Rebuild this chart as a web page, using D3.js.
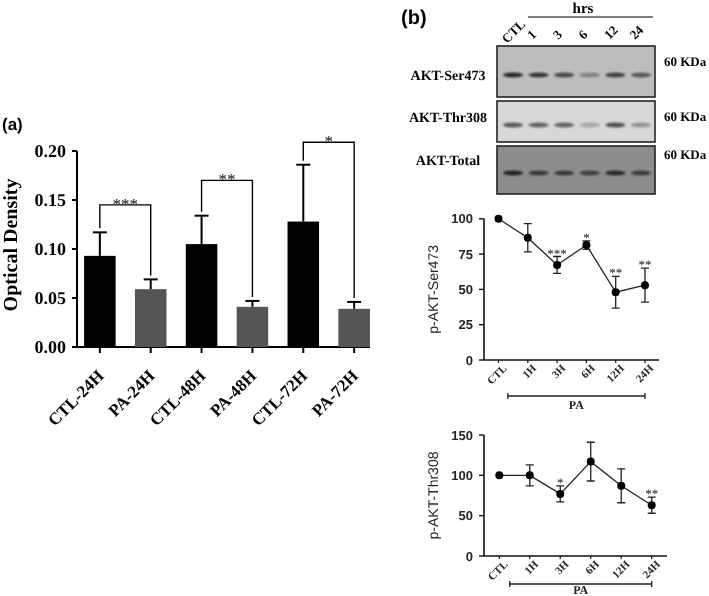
<!DOCTYPE html>
<html>
<head>
<meta charset="utf-8">
<script src="https://cdn.jsdelivr.net/npm/d3@7"></script>
<style>
  body { margin: 0; background: #fff; }
  svg { display: block; }
  text { opacity: 0.99; text-rendering: geometricPrecision; }
</style>
</head>
<body>
<script>
// panel (a) - optical density bars
const barCats = ["CTL-24H", "PA-24H", "CTL-48H", "PA-48H", "CTL-72H", "PA-72H"];
const barMeans = [0.093, 0.059, 0.105, 0.041, 0.128, 0.039];
const barErrs = [0.024, 0.010, 0.029, 0.006, 0.058, 0.007];
const barTicks = [0, 0.05, 0.10, 0.15, 0.20];
const barSigPairs = [["CTL-24H", "PA-24H", "***", 0.145], ["CTL-48H", "PA-48H", "**", 0.170], ["CTL-72H", "PA-72H", "*", 0.209]];

// panel (b) - western blot
const blotLanes = ["CTL", "1", "3", "6", "12", "24"];
const blotRows = ["AKT-Ser473", "AKT-Thr308", "AKT-Total"];
const ser473Bands = [0.9, 0.8, 0.7, 0.35, 0.75, 0.6];
const thr308Bands = [0.65, 0.6, 0.6, 0.25, 0.7, 0.35];
const totalBands = [0.9, 0.7, 0.7, 0.65, 0.85, 0.7];

// panel (b) - quantification
const timePoints = ["CTL", "1H", "3H", "6H", "12H", "24H"];
const ser473Means = [100, 86.6, 67.3, 81.4, 48, 53];
const ser473Errs = [0, 10, 6, 3, 11.2, 12];
const ser473Sig = ["", "", "***", "*", "**", "**"];
const ser473Ticks = [0, 25, 50, 75, 100];
const thr308Means = [100, 100, 77, 117, 87, 63];
const thr308Errs = [0, 13, 10, 24, 21, 10];
const thr308Sig = ["", "", "*", "", "", "**"];
const thr308Ticks = [0, 50, 100, 150];

const svg = d3.select("body").append("svg").attr("width", 709).attr("height", 596);
const serif = "'Liberation Serif', 'Times New Roman', serif";
const sans = "'Liberation Sans', Arial, sans-serif";

// ---------- (a) ----------
svg.append("text").attr("x", 2).attr("y", 130)
    .style("font", `bold 17px ${sans}`).text("(a)");

let xA = d3.scaleBand().domain(barCats).range([79, 375]).paddingInner(0.38).paddingOuter(0.1);
let yA = d3.scaleLinear().domain([0, 0.20]).range([347, 151]);

let gA = svg.append("g");
gA.append("line").attr("x1", 77).attr("x2", 77).attr("y1", 347).attr("y2", yA(0.20)).attr("stroke", "#000").attr("stroke-width", 2);
gA.append("line").attr("x1", 77).attr("x2", 370).attr("y1", 347).attr("y2", 347).attr("stroke", "#000").attr("stroke-width", 2);

gA.selectAll(".ytick").data(barTicks).join("line")
    .attr("x1", 72).attr("x2", 77).attr("y1", d => yA(d)).attr("y2", d => yA(d))
    .attr("stroke", "#000").attr("stroke-width", 2);
gA.selectAll(".ylab").data(barTicks).join("text")
    .attr("x", 66).attr("y", d => yA(d)).attr("dy", "0.35em")
    .attr("text-anchor", "end").style("font", `bold 18px ${serif}`)
    .text(d => d.toFixed(2));

gA.append("text").attr("transform", "translate(17,245) rotate(-90)")
    .attr("text-anchor", "middle").style("font", `bold 20px ${serif}`).text("Optical Density");

// error bars behind bars
gA.selectAll(".err").data(barCats).join("line")
    .attr("x1", d => xA(d) + xA.bandwidth() / 2).attr("x2", d => xA(d) + xA.bandwidth() / 2)
    .attr("y1", (d, i) => yA(barMeans[i])).attr("y2", (d, i) => yA(barMeans[i] + barErrs[i]))
    .attr("stroke", "#000").attr("stroke-width", 2);
gA.selectAll(".cap").data(barCats).join("line")
    .attr("x1", d => xA(d) + xA.bandwidth() / 2 - 7).attr("x2", d => xA(d) + xA.bandwidth() / 2 + 7)
    .attr("y1", (d, i) => yA(barMeans[i] + barErrs[i])).attr("y2", (d, i) => yA(barMeans[i] + barErrs[i]))
    .attr("stroke", "#000").attr("stroke-width", 2);

gA.selectAll("rect").data(barCats).join("rect")
    .attr("x", d => xA(d)).attr("width", xA.bandwidth())
    .attr("y", (d, i) => yA(barMeans[i])).attr("height", (d, i) => 347 - yA(barMeans[i]))
    .attr("fill", (d, i) => i % 2 ? "#555555" : "#000");

gA.selectAll(".xtick").data(barCats).join("line")
    .attr("x1", d => xA(d) + xA.bandwidth() / 2).attr("x2", d => xA(d) + xA.bandwidth() / 2)
    .attr("y1", 347).attr("y2", 353).attr("stroke", "#000").attr("stroke-width", 2);
gA.selectAll(".xlab").data(barCats).join("text")
    .attr("transform", d => `translate(${xA(d) + xA.bandwidth() / 2 + 5},377) rotate(-45)`)
    .attr("text-anchor", "end")
    .style("font", `bold 17px ${serif}`).text(d => d);

// significance brackets
barSigPairs.forEach(([a, b, lab, yv]) => {
    let x1 = xA(a) + xA.bandwidth() / 2, x2 = xA(b) + xA.bandwidth() / 2;
    let ia = barCats.indexOf(a), ib = barCats.indexOf(b);
    let ya = yA(barMeans[ia] + barErrs[ia]) - 4, yb = yA(barMeans[ib] + barErrs[ib]) - 4;
    gA.append("path")
        .attr("d", `M${x1},${ya} V${yA(yv)} H${x2} V${yb}`)
        .attr("fill", "none").attr("stroke", "#000").attr("stroke-width", 1.4);
    gA.append("text").attr("x", (x1 + x2) / 2).attr("y", yA(yv) + 5)
        .attr("text-anchor", "middle").style("font", `17px ${serif}`).attr("fill", "#222").text(lab);
});

// ---------- (b) blot ----------
svg.append("text").attr("x", 401).attr("y", 24)
    .style("font", `bold 20px ${sans}`).text("(b)");
svg.append("text").attr("x", 583).attr("y", 13).attr("text-anchor", "middle")
    .style("font", `bold 15px ${serif}`).text("hrs");
svg.append("line").attr("x1", 528).attr("x2", 653).attr("y1", 17).attr("y2", 17)
    .attr("stroke", "#000").attr("stroke-width", 1.2);

let xLane = d3.scalePoint().domain(blotLanes).range([513, 641]);
svg.append("g").selectAll("text").data(blotLanes).join("text")
    .attr("transform", d => `translate(${xLane(d) - 6},${d === "CTL" ? 44 : 40}) rotate(-45)`)
    .style("font", `bold 13px ${serif}`).text(d => d);

let defs = svg.append("defs");
defs.append("filter").attr("id", "blur").append("feGaussianBlur").attr("stdDeviation", 1.1);

const blotBoxes = [[46, 97, "#bdbdbd", ser473Bands, 75], [101, 142, "#d7d7d7", thr308Bands, 125], [146, 194, "#8d8d8d", totalBands, 173]];
const labelY = [80, 122, 165];
const kdaY = [66, 121, 159];
blotBoxes.forEach(([y0, y1, bg, bands, by], r) => {
    let shade = d3.scaleLinear().domain([0, 1]).range([bg, "#151515"]);
    svg.append("rect").attr("x", 497).attr("y", y0).attr("width", 158).attr("height", y1 - y0)
        .attr("fill", bg).attr("stroke", "#222").attr("stroke-width", 1.6);
    svg.append("g").attr("filter", "url(#blur)").selectAll("ellipse").data(bands).join("ellipse")
        .attr("cx", (d, i) => xLane(blotLanes[i])).attr("cy", by)
        .attr("rx", 10).attr("ry", 2.6).attr("fill", d => shade(d));
    svg.append("text").attr("x", 448).attr("y", labelY[r]).attr("text-anchor", "middle")
        .style("font", `bold 14px ${serif}`).text(blotRows[r]);
    svg.append("text").attr("x", 664).attr("y", kdaY[r])
        .style("font", `bold 13px ${serif}`).text("60 KDa");
});

// ---------- (b) line charts ----------
function lineChart(means, errs, sig, ticks, yMax, y0, y1, xr, axisEnd, label, paY) {
    let g = svg.append("g");
    let x = d3.scalePoint().domain(timePoints).range(xr);
    let y = d3.scaleLinear().domain([0, yMax]).range([y0, y1]);

    g.append("line").attr("x1", 484).attr("x2", 484).attr("y1", y0).attr("y2", y1).attr("stroke", "#111").attr("stroke-width", 1.6);
    g.append("line").attr("x1", 484).attr("x2", axisEnd).attr("y1", y0).attr("y2", y0).attr("stroke", "#111").attr("stroke-width", 1.6);
    g.selectAll(".yt").data(ticks).join("line")
        .attr("x1", 479).attr("x2", 484).attr("y1", d => y(d)).attr("y2", d => y(d))
        .attr("stroke", "#111").attr("stroke-width", 1.4);
    g.selectAll(".yl").data(ticks).join("text")
        .attr("x", 473).attr("y", d => y(d)).attr("dy", "0.35em").attr("text-anchor", "end")
        .style("font", `bold 13px ${sans}`).attr("fill", "#222").text(d => d);
    g.selectAll(".xt").data(timePoints).join("line")
        .attr("x1", d => x(d)).attr("x2", d => x(d)).attr("y1", y0).attr("y2", y0 + 3)
        .attr("stroke", "#111").attr("stroke-width", 1.2);
    g.selectAll(".xl").data(timePoints).join("text")
        .attr("transform", d => `translate(${x(d) + 4},${y0 + 4}) rotate(-45)`)
        .attr("text-anchor", "end").attr("dy", "0.65em")
        .style("font", `bold 11px ${serif}`).attr("fill", "#222").text(d => d);
    g.append("text").attr("transform", `translate(438,${(y0 + y1) / 2}) rotate(-90)`)
        .attr("text-anchor", "middle").style("font", `14px ${sans}`).attr("fill", "#222").text(label);

    g.append("path").datum(means)
        .attr("d", d3.line().x((d, i) => x(timePoints[i])).y(d => y(d)))
        .attr("fill", "none").attr("stroke", "#222").attr("stroke-width", 1.3);
    g.selectAll(".eb").data(means).join("path")
        .attr("d", (d, i) => {
            if (!errs[i]) return null;
            let cx = x(timePoints[i]), t = y(d + errs[i]), b = y(d - errs[i]);
            return `M${cx},${t} V${b} M${cx - 4},${t} H${cx + 4} M${cx - 4},${b} H${cx + 4}`;
        })
        .attr("fill", "none").attr("stroke", "#222").attr("stroke-width", 1.3);
    g.selectAll("circle").data(means).join("circle")
        .attr("cx", (d, i) => x(timePoints[i])).attr("cy", d => y(d)).attr("r", 4).attr("fill", "#000");
    g.selectAll(".sig").data(sig).join("text").attr("class", "sig")
        .attr("x", (d, i) => x(timePoints[i])).attr("y", (d, i) => y(means[i] + errs[i]) + 1)
        .attr("text-anchor", "middle").style("font", `13px ${serif}`).attr("fill", "#222").text(d => d);

    // PA bracket
    let pa0 = x("1H") - 20, pa1 = x("24H");
    g.append("path").attr("d", `M${pa0},${paY - 3} V${paY + 3} M${pa0},${paY} H${pa1} M${pa1},${paY - 3} V${paY + 3}`)
        .attr("stroke", "#222").attr("stroke-width", 1.3).attr("fill", "none");
    g.append("text").attr("x", (pa0 + pa1) / 2).attr("y", Math.min(paY + 13, 594)).attr("text-anchor", "middle")
        .style("font", `bold 12px ${serif}`).attr("fill", "#222").text("PA");
}

lineChart(ser473Means, ser473Errs, ser473Sig, ser473Ticks, 100, 360, 218.8, [498.5, 645], 659, "p-AKT-Ser473", 396);
lineChart(thr308Means, thr308Errs, thr308Sig, thr308Ticks, 150, 556, 435, [499.3, 651.7], 667, "p-AKT-Thr308", 584);
</script>
</body>
</html>
